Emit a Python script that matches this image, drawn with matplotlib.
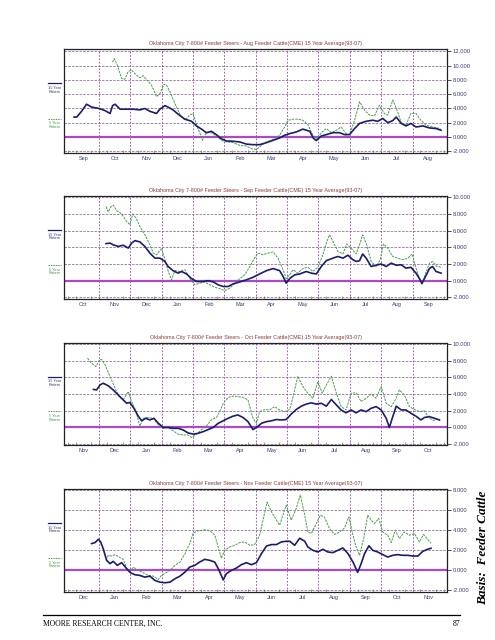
import numpy as np
import matplotlib
matplotlib.use('Agg')
import matplotlib.pyplot as plt

# MONTH LABELS
MONTHS = ['Jan', 'Feb', 'Mar', 'Apr', 'May', 'Jun', 'Jul', 'Aug', 'Sep', 'Oct', 'Nov', 'Dec']

# x values are months since the first month of each panel
# PANEL 1 - Aug feeder cattle
p1_title = 'Oklahoma City 7-800# Feeder Steers - Aug Feeder Cattle(CME) 15 Year Average(93-07)'
p1_start = 'Sep'
p1_yticks = [-2, 0, 2, 4, 6, 8, 10, 12]
p1_15_x = [0.20, 0.29, 0.44, 0.60, 0.76, 1.00, 1.19, 1.35, 1.43, 1.51, 1.67, 1.88, 2.09, 2.30, 2.46,
           2.62, 2.83, 2.94, 3.10, 3.20, 3.36, 3.52, 3.74, 3.95, 4.11, 4.27, 4.42, 4.58, 4.74, 4.90,
           5.06, 5.27, 5.49, 5.70, 5.91, 6.12, 6.34, 6.55, 6.76, 6.92, 7.08, 7.29, 7.50, 7.72, 7.84,
           7.93, 8.09, 8.25, 8.46, 8.67, 8.83, 8.99, 9.15, 9.31, 9.52, 9.73, 9.89, 10.05, 10.21, 10.37,
           10.48, 10.64, 10.79, 10.95, 11.11, 11.33, 11.54, 11.75, 11.91]
p1_15_y = [2.8, 2.8, 3.6, 4.6, 4.2, 4.0, 3.7, 3.3, 4.4, 4.6, 3.9, 3.9, 3.9, 3.8, 4.0,
           3.6, 3.3, 3.9, 4.4, 4.2, 3.8, 3.2, 2.5, 2.2, 1.55, 1.1, 0.6, 0.8, 0.33, -0.24,
           -0.56, -0.6, -0.7, -1.0, -1.08, -1.08, -0.8, -0.47, -0.14, 0.24, 0.47, 0.7, 1.1, 0.8, -0.2,
           -0.5, 0.14, 0.33, 0.6, 0.6, 0.33, 0.33, 1.18, 1.9, 2.2, 2.35, 2.2, 2.6, 2.0, 2.3,
           2.8, 1.9, 1.55, 1.9, 1.4, 1.55, 1.27, 1.18, 0.94]
p1_5_x = [1.43, 1.48, 1.58, 1.72, 1.82, 1.93, 2.04, 2.14, 2.30, 2.41, 2.54, 2.67, 2.83, 2.94, 3.07,
          3.15, 3.26, 3.42, 3.58, 3.74, 3.89, 4.00, 4.11, 4.21, 4.30, 4.42, 4.58, 4.74, 4.90, 5.06,
          5.27, 5.49, 5.70, 5.86, 6.02, 6.18, 6.34, 6.55, 6.76, 6.92, 7.03, 7.19, 7.34, 7.50, 7.66,
          7.82, 7.93, 8.09, 8.25, 8.41, 8.57, 8.72, 8.88, 8.99, 9.15, 9.31, 9.47, 9.63, 9.79, 9.94,
          10.10, 10.21, 10.37, 10.53, 10.64, 10.79, 10.95, 11.11, 11.27, 11.43, 11.64, 11.80, 11.91]
p1_5_y = [10.5, 11.0, 10.1, 8.2, 8.1, 9.2, 9.4, 8.9, 8.3, 8.6, 7.9, 7.3, 5.65, 6.1, 7.4,
          7.3, 6.35, 4.7, 3.15, 2.35, 3.06, 3.3, 1.65, 0.6, -0.47, 0.6, 0.6, 0.14, -0.47, -0.7,
          -0.8, -1.18, -1.27, -1.65, -1.74, -1.18, -0.7, -0.33, 0.24, 1.4, 2.35, 2.5, 2.5, 2.35, 1.75,
          0.24, -0.38, 0.6, 1.18, 0.6, 0.94, 1.4, 0.47, 0.33, 2.35, 4.94, 3.76, 3.06, 2.96, 4.47,
          3.3, 3.06, 5.2, 3.5, 2.0, 1.65, 3.3, 3.3, 2.35, 1.65, 1.4, 1.27, 1.1]

# PANEL 2 - Sep feeder cattle
p2_title = 'Oklahoma City 7-800# Feeder Steers - Sep Feeder Cattle(CME) 15 Year Average(93-07)'
p2_start = 'Oct'
p2_yticks = [-2, 0, 2, 4, 6, 8, 10]
p2_15_x = [1.22, 1.35, 1.45, 1.61, 1.77, 1.93, 2.04, 2.14, 2.30, 2.46, 2.62, 2.78, 2.94, 3.10, 3.20,
           3.36, 3.52, 3.63, 3.79, 3.95, 4.11, 4.32, 4.48, 4.64, 4.80, 4.96, 5.12, 5.27, 5.49, 5.70,
           5.91, 6.12, 6.34, 6.55, 6.76, 6.87, 6.97, 7.08, 7.24, 7.40, 7.61, 7.77, 7.93, 8.09, 8.25,
           8.46, 8.62, 8.78, 8.94, 9.10, 9.20, 9.31, 9.41, 9.52, 9.68, 9.84, 10.00, 10.16, 10.32, 10.48,
           10.64, 10.79, 10.95, 11.11, 11.22, 11.30, 11.38, 11.54, 11.64, 11.75, 11.91]
p2_15_y = [4.44, 4.5, 4.3, 4.1, 4.25, 3.9, 4.5, 4.8, 4.65, 4.1, 3.3, 2.7, 2.7, 2.3, 1.7,
           1.2, 0.9, 1.1, 0.8, 0.25, -0.1, -0.1, 0.0, -0.15, -0.5, -0.7, -0.7, -0.4, -0.15, 0.1,
           0.4, 0.8, 1.2, 1.45, 1.2, 0.5, -0.3, 0.25, 0.7, 0.8, 1.1, 0.9, 0.8, 1.7, 2.4,
           2.7, 2.9, 2.7, 3.05, 2.5, 2.3, 2.4, 3.2, 2.7, 1.7, 1.85, 2.0, 1.7, 2.1, 1.85,
           1.9, 1.5, 1.6, 0.9, 0.25, -0.35, 0.25, 1.45, 1.7, 1.1, 0.9]
p2_5_x = [1.22, 1.29, 1.37, 1.45, 1.56, 1.72, 1.88, 1.98, 2.07, 2.18, 2.30, 2.46, 2.62, 2.73, 2.83,
          2.99, 3.10, 3.20, 3.31, 3.42, 3.58, 3.74, 3.89, 4.05, 4.21, 4.37, 4.53, 4.69, 4.85, 5.01,
          5.17, 5.33, 5.49, 5.65, 5.81, 5.96, 6.07, 6.23, 6.39, 6.55, 6.71, 6.87, 6.97, 7.08, 7.19,
          7.34, 7.50, 7.66, 7.82, 7.98, 8.14, 8.25, 8.35, 8.46, 8.62, 8.78, 8.90, 9.04, 9.20, 9.31,
          9.41, 9.52, 9.68, 9.84, 9.97, 10.07, 10.21, 10.37, 10.53, 10.69, 10.85, 10.99, 11.11, 11.22, 11.30,
          11.41, 11.54, 11.64, 11.77, 11.91]
p2_5_y = [8.9, 8.25, 8.8, 9.05, 8.4, 8.0, 7.1, 6.7, 8.0, 7.5, 6.5, 5.5, 4.3, 3.3, 3.1,
          3.85, 2.5, 1.2, 0.1, 1.2, 1.1, 1.3, 0.3, -0.5, -0.3, -0.15, -0.5, -0.8, -0.95, -1.2,
          -0.9, -0.3, 0.25, 0.7, 1.7, 2.7, 3.3, 3.1, 3.3, 3.45, 2.7, 1.3, 0.25, 0.7, 1.3,
          0.9, 1.45, 1.6, 1.1, 1.6, 3.1, 4.5, 5.5, 4.7, 3.5, 3.2, 4.4, 3.9, 3.2, 4.3,
          5.5, 4.5, 2.3, 1.7, 2.5, 4.4, 3.9, 2.9, 2.7, 2.5, 2.7, 3.2, 1.5, 0.3, -0.4,
          0.8, 2.1, 2.3, 1.7, 1.6]

# PANEL 3 - Oct feeder cattle
p3_title = 'Oklahoma City 7-800# Feeder Steers - Oct Feeder Cattle(CME) 15 Year Average(93-07)'
p3_start = 'Nov'
p3_yticks = [-2, 0, 2, 4, 6, 8, 10]
p3_15_x = [0.82, 0.92, 1.03, 1.13, 1.29, 1.45, 1.61, 1.77, 1.88, 1.98, 2.11, 2.25, 2.36, 2.49, 2.62,
           2.75, 2.89, 3.05, 3.20, 3.36, 3.52, 3.68, 3.84, 4.00, 4.16, 4.32, 4.48, 4.64, 4.80, 4.96,
           5.12, 5.27, 5.43, 5.59, 5.75, 5.91, 6.02, 6.18, 6.34, 6.50, 6.66, 6.81, 6.97, 7.13, 7.29,
           7.45, 7.61, 7.77, 7.93, 8.09, 8.25, 8.41, 8.57, 8.72, 8.88, 9.04, 9.20, 9.36, 9.52, 9.68,
           9.84, 10.00, 10.16, 10.26, 10.37, 10.48, 10.64, 10.79, 10.95, 11.11, 11.27, 11.38, 11.54, 11.70, 11.86]
p3_15_y = [4.56, 4.5, 5.1, 5.3, 5.0, 4.5, 3.9, 3.3, 2.9, 3.0, 2.3, 1.35, 0.8, 1.1, 0.9,
           1.1, 0.5, 0.0, 0.0, -0.1, -0.1, -0.3, -0.65, -0.8, -0.7, -0.5, -0.25, 0.0, 0.5, 0.8,
           1.1, 1.35, 1.5, 1.2, 0.7, -0.25, 0.0, 0.5, 0.7, 0.8, 0.95, 0.9, 0.95, 1.6, 2.15,
           2.55, 2.8, 2.95, 2.8, 2.9, 2.55, 3.35, 2.7, 2.1, 1.75, 2.1, 1.75, 2.1, 1.9, 2.3,
           2.5, 2.1, 1.1, 0.0, 1.3, 2.55, 2.1, 2.1, 1.7, 1.35, 0.9, 1.2, 1.3, 1.1, 0.9]
p3_5_x = [0.63, 0.76, 0.90, 1.01, 1.08, 1.19, 1.35, 1.51, 1.64, 1.77, 1.93, 2.04, 2.18, 2.30, 2.41,
          2.57, 2.73, 2.89, 3.05, 3.20, 3.36, 3.52, 3.68, 3.84, 3.95, 4.11, 4.27, 4.42, 4.58, 4.74,
          4.85, 4.96, 5.12, 5.27, 5.43, 5.59, 5.75, 5.91, 6.02, 6.12, 6.28, 6.44, 6.60, 6.76, 6.92,
          7.08, 7.19, 7.34, 7.50, 7.66, 7.82, 7.98, 8.12, 8.25, 8.41, 8.57, 8.72, 8.88, 9.04, 9.20,
          9.36, 9.52, 9.68, 9.84, 10.00, 10.16, 10.32, 10.48, 10.58, 10.74, 10.90, 11.06, 11.22, 11.38, 11.54,
          11.64, 11.75]
p3_5_y = [8.3, 7.7, 7.3, 8.1, 8.15, 7.5, 6.1, 4.7, 3.7, 3.3, 4.3, 3.1, 1.9, 0.15, 1.1,
          1.2, 1.1, 0.3, -0.1, 0.0, -0.4, -0.8, -0.9, -0.9, -1.2, -0.8, -0.25, 0.15, 0.9, 1.2,
          1.9, 2.9, 3.6, 3.75, 3.7, 3.6, 3.3, 1.1, 0.5, 1.9, 2.15, 2.1, 2.5, 2.1, 1.9,
          2.15, 3.7, 6.15, 4.9, 4.1, 3.5, 5.5, 4.1, 5.1, 6.15, 4.1, 2.5, 2.1, 4.1, 4.15,
          3.1, 3.5, 4.0, 3.5, 4.9, 2.9, 2.5, 3.5, 4.5, 3.9, 2.5, 2.15, 1.9, 2.0, 1.1,
          0.9, 0.8]

# PANEL 4 - Nov feeder cattle
p4_title = 'Oklahoma City 7-800# Feeder Steers - Nov Feeder Cattle(CME) 15 Year Average(93-07)'
p4_start = 'Dec'
p4_yticks = [-2, 0, 2, 4, 6, 8]
p4_15_x = [0.76, 0.87, 0.98, 1.05, 1.13, 1.24, 1.35, 1.45, 1.58, 1.72, 1.88, 2.00, 2.14, 2.30, 2.46,
           2.62, 2.78, 2.94, 3.10, 3.26, 3.42, 3.58, 3.74, 3.89, 4.05, 4.21, 4.37, 4.53, 4.69, 4.83,
           4.96, 5.06, 5.22, 5.38, 5.54, 5.70, 5.86, 6.02, 6.18, 6.34, 6.50, 6.66, 6.81, 6.97, 7.08,
           7.24, 7.40, 7.56, 7.66, 7.82, 7.98, 8.14, 8.30, 8.46, 8.62, 8.78, 8.94, 9.10, 9.25, 9.36,
           9.47, 9.61, 9.73, 9.89, 10.05, 10.21, 10.37, 10.53, 10.69, 10.85, 11.01, 11.17, 11.33, 11.48, 11.59]
p4_15_y = [2.67, 2.77, 3.1, 2.83, 2.17, 1.0, 0.67, 0.9, 0.5, 0.77, 0.17, -0.23, -0.43, -0.5, -0.67,
           -0.57, -1.0, -1.17, -1.23, -1.17, -0.83, -0.57, -0.17, 0.33, 0.5, 0.83, 1.1, 1.0, 0.83, 0.0,
           -0.95, -0.33, 0.0, 0.23, 0.57, 0.77, 0.57, 0.77, 1.67, 2.43, 2.57, 2.57, 2.83, 2.9, 2.9,
           2.5, 3.2, 2.9, 2.33, 2.0, 1.83, 2.1, 1.83, 1.77, 2.0, 2.23, 1.67, 0.83, -0.2, 0.67,
           1.67, 2.45, 2.0, 1.83, 1.57, 1.33, 1.5, 1.57, 1.5, 1.5, 1.43, 1.43, 1.9, 2.1, 2.2]
p4_5_x = [1.22, 1.29, 1.40, 1.51, 1.64, 1.77, 1.88, 1.98, 2.09, 2.25, 2.41, 2.57, 2.73, 2.89, 2.99,
          3.13, 3.26, 3.42, 3.58, 3.74, 3.89, 4.00, 4.11, 4.27, 4.42, 4.58, 4.69, 4.80, 4.90, 5.01,
          5.17, 5.33, 5.49, 5.65, 5.81, 5.96, 6.12, 6.23, 6.36, 6.50, 6.66, 6.76, 6.97, 7.13, 7.29,
          7.42, 7.56, 7.66, 7.77, 7.93, 8.06, 8.19, 8.35, 8.51, 8.67, 8.83, 8.97, 9.10, 9.20, 9.31,
          9.44, 9.57, 9.68, 9.79, 9.92, 10.05, 10.21, 10.32, 10.45, 10.58, 10.74, 10.90, 11.06, 11.22, 11.35,
          11.48, 11.59]
p4_5_y = [1.0, 1.5, 1.43, 1.57, 1.33, 1.1, 0.23, -0.23, 0.33, 0.0, -0.23, -0.5, -0.57, -0.9, -0.5,
          -0.23, 0.0, 0.5, 0.83, 1.67, 2.67, 3.67, 3.9, 4.0, 4.05, 3.83, 3.5, 2.33, 1.2, 2.0,
          2.33, 2.5, 2.77, 2.83, 2.5, 2.57, 3.5, 5.0, 6.8, 5.83, 5.0, 4.5, 6.5, 5.0, 6.17,
          7.5, 5.5, 3.83, 3.67, 4.67, 5.5, 5.3, 4.17, 3.57, 3.83, 4.23, 5.33, 3.5, 2.33, 1.5,
          3.17, 5.5, 5.0, 4.67, 5.17, 3.83, 3.5, 2.77, 4.0, 3.17, 3.83, 3.5, 3.67, 2.83, 3.57,
          3.1, 2.7]

# COLOURS
NAVY = '#1c1c6e'
GREEN = '#4a9e4a'
HGRID = '#94709f'
VGRID = '#8a44a8'
ZERO = '#a64cc4'
TITLE = '#8b3a3a'
LABEL = '#3a3f78'

plt.rcParams['font.family'] = ['Liberation Sans', 'DejaVu Sans']

fig = plt.figure(figsize=(4.95, 6.4), dpi=100)
W, H = 495.0, 640.0


def panel(top, bottom, title, start, yticks, ylim, x15, y15, x5, y5):
    ax = fig.add_axes([64 / W, 1 - bottom / H, 383 / W, (bottom - top) / H])
    ax.set_facecolor('white')
    ax.set_xlim(-0.12, 12.1)
    ax.set_ylim(*ylim)

    # grid
    for yv in yticks:
        if yv == 0:
            continue
        ax.axhline(yv, color=HGRID, lw=0.6, ls=(0, (3, 1.5)), zorder=1)
    for m in range(1, 12):
        ax.axvline(m, color=VGRID, lw=0.6, ls=(0, (2, 2)), zorder=1)
    ax.axhline(0, color=ZERO, lw=1.6, zorder=2)

    # series
    ax.plot(x5, y5, color=GREEN, lw=0.7, ls=(0, (2.5, 1)), zorder=3)
    ax.plot(x15, y15, color=NAVY, lw=1.2, zorder=4)

    # axes
    i = MONTHS.index(start)
    labels = MONTHS[i:] + MONTHS[:i]
    ax.set_xticks(np.arange(12) + 0.5)
    ax.set_xticklabels(labels, fontsize=4, color=LABEL)
    ax.set_xticks(np.arange(0, 12.01, 0.25), minor=True)
    ax.tick_params(axis='x', which='major', length=0, pad=2)
    ax.tick_params(axis='x', which='minor', length=2, width=0.5, color='#777777', direction='in')
    ax.yaxis.tick_right()
    ax.set_yticks(yticks)
    ax.set_yticklabels(['%.3f' % v for v in yticks], fontsize=4.2, color=LABEL)
    ax.tick_params(axis='y', length=3, width=0.6, pad=1, color='#333333')
    for s in ax.spines.values():
        s.set_color('#222222')
        s.set_linewidth(0.9)

    ax.set_title(title, fontsize=3.9, color=TITLE, pad=3)

    # little legend on the left
    tr = ax.transAxes
    ax.plot([-0.042, -0.008], [0.67, 0.67], color=NAVY, lw=0.9, transform=tr, clip_on=False)
    ax.text(-0.025, 0.645, '15 Year\nPattern', transform=tr, fontsize=2.8, color=LABEL,
            ha='center', va='top', linespacing=0.9)
    ax.plot([-0.042, -0.008], [0.33, 0.33], color=GREEN, lw=0.7, ls=(0, (1.5, 1)),
            transform=tr, clip_on=False)
    ax.text(-0.025, 0.305, '5 Year\nPattern', transform=tr, fontsize=2.8, color=GREEN,
            ha='center', va='top', linespacing=0.9)
    return ax


panel(49, 153, p1_title, p1_start, p1_yticks, (-2.25, 12.35), p1_15_x, p1_15_y, p1_5_x, p1_5_y)
panel(196, 299, p2_title, p2_start, p2_yticks, (-2.2, 10.15), p2_15_x, p2_15_y, p2_5_x, p2_5_y)
panel(343, 445, p3_title, p3_start, p3_yticks, (-2.1, 10.12), p3_15_x, p3_15_y, p3_5_x, p3_5_y)
panel(489, 592, p4_title, p4_start, p4_yticks, (-2.15, 8.1), p4_15_x, p4_15_y, p4_5_x, p4_5_y)

# footer
fig.add_artist(plt.Line2D([43 / W, 460 / W], [1 - 615 / H, 1 - 615 / H], color='black', lw=0.9))
fig.text(43 / W, 1 - 624 / H, 'MOORE RESEARCH CENTER, INC.', family='Liberation Serif',
         fontsize=5.5, va='center', ha='left')
fig.text(460 / W, 1 - 624 / H, '87', family='Liberation Serif', fontsize=5.5, va='center', ha='right')
fig.text(483 / W, 1 - 548 / H, 'Basis:  Feeder Cattle', family='Liberation Serif', fontsize=9.5,
         fontweight='bold', style='italic', rotation=90, ha='center', va='center')

fig.savefig('out.png', dpi=100, facecolor='white')
